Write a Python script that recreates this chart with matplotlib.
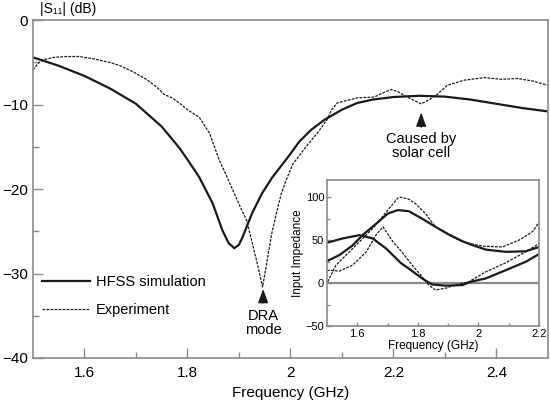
import numpy as np
import matplotlib
matplotlib.use("Agg")
import matplotlib.pyplot as plt

plt.rcParams["font.family"] = ["Liberation Sans", "DejaVu Sans"]

# main |S11| curves
sim_f = [1.50, 1.55, 1.60, 1.65, 1.70, 1.75, 1.784, 1.80, 1.823, 1.849, 1.868, 1.88, 1.891, 1.90,
         1.907, 1.926, 1.945, 1.965, 1.998, 2.017, 2.04, 2.066, 2.10, 2.13, 2.16, 2.20, 2.25,
         2.30, 2.35, 2.40, 2.45, 2.50]
sim_db = [-4.4, -5.4, -6.6, -8.1, -9.9, -12.6, -15.1, -16.5, -18.6, -21.7, -24.9, -26.4, -27.0, -26.6,
          -25.7, -22.8, -20.5, -18.6, -16.0, -14.4, -13.0, -11.8, -10.6, -9.8, -9.4, -9.1, -8.95,
          -9.05, -9.4, -9.9, -10.4, -10.8]

exp_f = [1.500, 1.510, 1.520, 1.540, 1.565, 1.590, 1.620, 1.649, 1.670, 1.694, 1.720, 1.740, 1.755,
         1.770, 1.784, 1.800, 1.823, 1.843, 1.862, 1.875, 1.888, 1.901, 1.915, 1.934, 1.946, 1.955,
         1.964, 1.973, 1.982, 1.992, 2.005, 2.014, 2.030, 2.052, 2.071, 2.080, 2.091, 2.110, 2.130,
         2.163, 2.180, 2.196, 2.210, 2.221, 2.240, 2.254, 2.270, 2.283, 2.305, 2.338, 2.377, 2.410,
         2.441, 2.470, 2.500]
exp_db = [-5.9, -5.1, -4.7, -4.4, -4.3, -4.3, -4.6, -5.0, -5.4, -6.1, -7.0, -7.9, -8.8,
          -9.2, -9.8, -10.6, -11.5, -13.4, -16.6, -18.3, -20.1, -21.9, -23.7, -28.4, -31.6, -28.4,
          -25.2, -22.8, -20.6, -18.9, -17.0, -16.3, -15.0, -13.4, -11.8, -10.6, -9.8, -9.5, -9.2,
          -9.1, -8.6, -8.2, -8.5, -8.9, -9.5, -9.9, -9.4, -8.9, -7.7, -7.1, -6.8, -7.0,
          -6.9, -7.2, -7.7]

# inset: input impedance (solid = simulation, dashed = measured)
simR_f = [1.50, 1.541, 1.585, 1.618, 1.662, 1.701, 1.734, 1.770, 1.814, 1.858, 1.902, 1.947,
          1.974, 2.024, 2.090, 2.156, 2.20]
simR_v = [25.6, 32.6, 44, 56, 69, 81, 85, 83.7, 75, 65.5, 56.6, 48.8, 45, 39, 36.4, 37, 42]
simX_f = [1.50, 1.552, 1.607, 1.651, 1.696, 1.745, 1.770, 1.814, 1.847, 1.891, 1.947, 1.974,
          2.024, 2.090, 2.156, 2.20]
simX_v = [47, 52, 55.8, 52, 40, 23, 17, 5.4, -1.6, -3, -2.3, 1.5, 5.4, 15, 24.8, 33.7]
expR_f = [1.502, 1.530, 1.563, 1.607, 1.651, 1.696, 1.734, 1.742, 1.770, 1.792, 1.825, 1.858,
          1.902, 1.947, 2.013, 2.079, 2.134, 2.179, 2.20]
expR_v = [1.5, 21, 32.6, 48, 63.6, 83, 99, 100, 97.7, 92.6, 81, 65.5, 56, 48, 43, 42, 50, 60, 71]
expX_f = [1.50, 1.541, 1.585, 1.629, 1.662, 1.685, 1.718, 1.748, 1.781, 1.814, 1.836, 1.858,
          1.891, 1.924, 1.968, 2.024, 2.090, 2.156, 2.20]
expX_v = [15, 14, 21, 36, 56, 65.5, 48, 36, 21, 7.4, -2.3, -8, -6, -2.3, 1.5, 13, 23.6, 36.4, 46]

INK = "#1a1a1a"
GRAY = "#8a8a8a"
DASH = (0, (2.2, 1.0))


def style_axes(ax, size, major, minor):
    for s in ax.spines.values():
        s.set_color(GRAY)
        s.set_linewidth(1.2)
    ax.tick_params(which="both", direction="in", color=GRAY, labelsize=size, top=False, right=False)
    ax.tick_params(which="major", length=major, width=1.0)
    ax.tick_params(which="minor", length=minor, width=1.0)


fig = plt.figure(figsize=(5.5, 4.04), dpi=100)
ax = fig.add_axes([0.06, 0.114, 0.936, 0.836])
ax.plot(sim_f, sim_db, color=INK, lw=1.6, label="HFSS simulation")
ax.plot(exp_f, exp_db, color=INK, lw=0.9, ls=DASH, label="Experiment")
ax.set_xlim(1.5, 2.5)
ax.set_ylim(-40, 0)
ax.set_xticks([1.6, 1.8, 2.0, 2.2, 2.4])
ax.set_xticklabels(["1.6", "1.8", "2", "2.2", "2.4"])
ax.set_xticks(np.arange(1.7, 2.5, 0.2), minor=True)
ax.set_yticks([0, -10, -20, -30, -40])
ax.set_yticklabels(["0", "\u221210", "\u221220", "\u221230", "\u221240"])
ax.set_yticks([-5, -15, -25, -35], minor=True)
style_axes(ax, 11, 7, 4)
ax.tick_params(axis="x", pad=6)
ax.set_xlabel("Frequency (GHz)", fontsize=11, labelpad=4)
fig.text(0.073, 0.978, "|S\u2081\u2081| (dB)", fontsize=10, ha="left", va="center")

ax.legend(loc="upper left", bbox_to_anchor=(0.018, 0.245), frameon=False, fontsize=10.5,
          handlelength=3.3, handletextpad=0.4, labelspacing=0.95, borderpad=0, borderaxespad=0)

ax.annotate("", xy=(1.947, -31.5), xytext=(1.947, -33.8),
            arrowprops=dict(arrowstyle="-|>,head_length=0.6,head_width=0.22", color=INK,
                            lw=1.0, mutation_scale=14))
ax.text(1.947, -34.2, "DRA\nmode", ha="center", va="top", fontsize=10.5, linespacing=1.0)
ax.annotate("", xy=(2.254, -10.6), xytext=(2.254, -13.0),
            arrowprops=dict(arrowstyle="-|>,head_length=0.6,head_width=0.22", color=INK,
                            lw=1.0, mutation_scale=14))
ax.text(2.254, -13.3, "Caused by\nsolar cell", ha="center", va="top", fontsize=10.5, linespacing=1.0)

# inset
ins = fig.add_axes([0.5945, 0.193, 0.3855, 0.3614])
ins.set_facecolor("white")
ins.axhline(0, color=GRAY, lw=1.6, zorder=1)
ins.plot(simR_f, simR_v, color=INK, lw=1.6)
ins.plot(simX_f, simX_v, color=INK, lw=1.6)
ins.plot(expR_f, expR_v, color=INK, lw=0.9, ls=DASH)
ins.plot(expX_f, expX_v, color=INK, lw=0.9, ls=DASH)
ins.set_xlim(1.5, 2.2)
ins.set_ylim(-50, 120)
ins.set_xticks([1.6, 1.8, 2.0, 2.2])
ins.set_xticklabels(["1.6", "1.8", "2", "2.2"])
ins.set_xticks([1.7, 1.9, 2.1], minor=True)
ins.set_yticks([-50, 0, 50, 100])
ins.set_yticklabels(["\u221250", "0", "50", "100"])
ins.set_yticks([-25, 25, 75], minor=True)
style_axes(ins, 8, 3, 2)
ins.tick_params(pad=2)
ins.set_xlabel("Frequency (GHz)", fontsize=8.5, labelpad=1)
ins.set_ylabel("Input Impedance", fontsize=8.5, labelpad=1)

fig.savefig("out.png", dpi=100)
